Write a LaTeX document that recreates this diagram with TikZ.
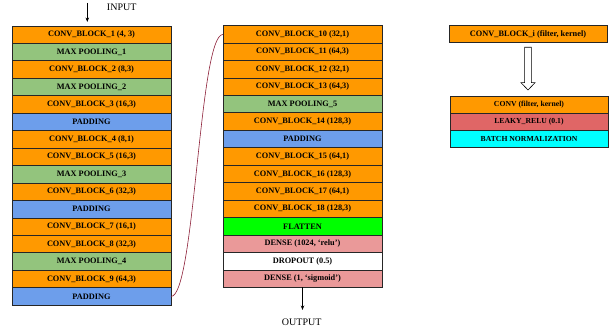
\documentclass[tikz,border=0pt]{standalone}
\usepackage{fontspec}
\setmainfont{Liberation Serif}
\usetikzlibrary{positioning,calc,arrows.meta}
\definecolor{convorange}{HTML}{FF9900}
\definecolor{poolgreen}{HTML}{93C47D}
\definecolor{padblue}{HTML}{6D9EEB}
\definecolor{flatgreen}{HTML}{00FF00}
\definecolor{densepink}{HTML}{EA9999}
\definecolor{relured}{HTML}{E06666}
\definecolor{bncyan}{HTML}{00FFFF}
\definecolor{linkred}{RGB}{140,30,55}
\tikzset{
  layer/.style={draw=black!85, line width=0.9pt, minimum width=159pt, minimum height=17.45pt,
    inner sep=0pt, outer sep=0pt, font=\fontsize{8.3}{10}\selectfont\bfseries, text=black},
  conv/.style={layer, fill=convorange},
  pool/.style={layer, fill=poolgreen},
  pad/.style={layer, fill=padblue},
  flat/.style={layer, fill=flatgreen},
  dense/.style={layer, fill=densepink},
  drop/.style={layer, fill=white},
  sublayer/.style={layer, minimum width=158pt, minimum height=17.1pt, font=\fontsize{7.7}{9}\selectfont\bfseries},
  flow/.style={-{Stealth[length=4.5pt,width=3.5pt]}, line width=0.6pt},
  tag/.style={font=\fontsize{10}{12}\selectfont, inner sep=0pt}
}
\begin{document}
\begin{tikzpicture}[x=1pt, y=-1pt]
\useasboundingbox (0,0) rectangle (609,331);

% first stack
\node[conv, anchor=north west] (l1) at (12,26) {CONV\_BLOCK\_1 (4, 3)};
\node[pool, below=0pt of l1] (l2) {MAX POOLING\_1};
\node[conv, below=0pt of l2] (l3) {CONV\_BLOCK\_2 (8,3)};
\node[pool, below=0pt of l3] (l4) {MAX POOLING\_2};
\node[conv, below=0pt of l4] (l5) {CONV\_BLOCK\_3 (16,3)};
\node[pad,  below=0pt of l5] (l6) {PADDING};
\node[conv, below=0pt of l6] (l7) {CONV\_BLOCK\_4 (8,1)};
\node[conv, below=0pt of l7] (l8) {CONV\_BLOCK\_5 (16,3)};
\node[pool, below=0pt of l8] (l9) {MAX POOLING\_3};
\node[conv, below=0pt of l9] (l10) {CONV\_BLOCK\_6 (32,3)};
\node[pad,  below=0pt of l10] (l11) {PADDING};
\node[conv, below=0pt of l11] (l12) {CONV\_BLOCK\_7 (16,1)};
\node[conv, below=0pt of l12] (l13) {CONV\_BLOCK\_8 (32,3)};
\node[pool, below=0pt of l13] (l14) {MAX POOLING\_4};
\node[conv, below=0pt of l14] (l15) {CONV\_BLOCK\_9 (64,3)};
\node[pad,  below=0pt of l15] (l16) {PADDING};

% second stack
\node[conv, anchor=north west] (m1) at (223,25.7) {CONV\_BLOCK\_10 (32,1)};
\node[conv, below=0pt of m1] (m2) {CONV\_BLOCK\_11 (64,3)};
\node[conv, below=0pt of m2] (m3) {CONV\_BLOCK\_12 (32,1)};
\node[conv, below=0pt of m3] (m4) {CONV\_BLOCK\_13 (64,3)};
\node[pool, below=0pt of m4] (m5) {MAX POOLING\_5};
\node[conv, below=0pt of m5] (m6) {CONV\_BLOCK\_14 (128,3)};
\node[pad,  below=0pt of m6] (m7) {PADDING};
\node[conv, below=0pt of m7] (m8) {CONV\_BLOCK\_15 (64,1)};
\node[conv, below=0pt of m8] (m9) {CONV\_BLOCK\_16 (128,3)};
\node[conv, below=0pt of m9] (m10) {CONV\_BLOCK\_17 (64,1)};
\node[conv, below=0pt of m10] (m11) {CONV\_BLOCK\_18 (128,3)};
\node[flat, below=0pt of m11] (m12) {FLATTEN};
\node[dense, below=0pt of m12] (m13) {DENSE (1024, `relu')};
\node[drop, below=0pt of m13] (m14) {DROPOUT (0.5)};
\node[dense, below=0pt of m14] (m15) {DENSE (1, `sigmoid')};

% input and output
\coordinate (inp) at (87.3,3);
\node[tag] (inlabel) at (121.7,7) {INPUT};
\draw[flow] (inp) -- (inp |- 0,22);
\coordinate (outp) at (m15.south);
\coordinate (outend) at ($(m15.south)+(0,22.5)$);
\node[tag] (outlabel) at (301.7,322.5) {OUTPUT};
\draw[flow] (outp) -- (outend);

% link from the first stack to the second
\draw[linkred, line width=0.6pt] (l16.east) .. controls ($(l16.east)+(24,0)$) and ($(m1.west)+(-24,0)$) .. (m1.west);

% legend: contents of a convolution block
\node[conv, anchor=north west, minimum width=158pt, minimum height=17pt] (cbi) at (449,25.7) {CONV\_BLOCK\_i (filter, kernel)};
\node[sublayer, fill=convorange, anchor=north west] (c1) at (450,96) {CONV (filter, kernel)};
\node[sublayer, fill=relured, below=0pt of c1] (c2) {LEAKY\_RELU (0.1)};
\node[sublayer, fill=bncyan, below=0pt of c2] (c3) {BATCH NORMALIZATION};

% hollow expansion arrow
\draw[line width=0.6pt, fill=white]
  ($(cbi.south)+(-3.4,4.6)$) -- ($(cbi.south)+(-3.4,40)$) -- ($(cbi.south)+(-7,40)$)
  -- ($(cbi.south)+(0,47.3)$) -- ($(cbi.south)+(7,40)$) -- ($(cbi.south)+(3.4,40)$)
  -- ($(cbi.south)+(3.4,4.6)$) -- cycle;
\end{tikzpicture}
\end{document}
